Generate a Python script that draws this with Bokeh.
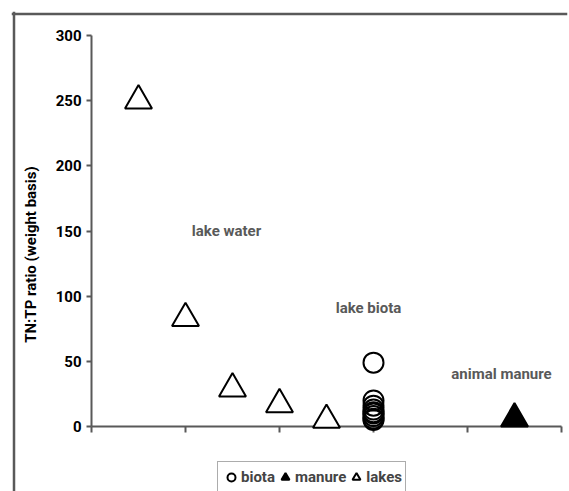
import math
from bokeh.plotting import figure
from bokeh.models import Label, Span, Legend, LegendItem, FixedTicker
from bokeh.embed import file_html
from bokeh.resources import INLINE

# ---- data ----
lakes_x = [1, 2, 3, 4, 5]
lakes_y = [250, 83, 29, 17, 5]
biota_x = [6, 6, 6, 6, 6, 6, 6, 6, 6]
biota_y = [49, 20, 16, 13, 11, 10, 8, 6, 5]
manure_x = [9]
manure_y = [6]
y_ticks = [0, 50, 100, 150, 200, 250, 300]
x_ticks = [0, 2, 4, 6, 8, 10]
series_names = ["biota", "manure", "lakes"]

FONT = "Roboto"
GREY = "#595959"

# ---- layout (pixels) ----
W, H = 569, 491
FL, FT, FR = 11, 11, 2          # frame (outer chart box) left/top, right border
AX_L, AX_R = 91, 561            # x=0 .. x=10
AX_T, AX_B = 35, 426            # y=300 .. y=0
xs = (AX_R - AX_L) / 10.0
ys = (AX_B - AX_T) / 300.0
x_range = ((FL - AX_L) / xs, 10 + (W - FR - AX_R) / xs)
y_range = (-(H - AX_B) / ys, 300 + (AX_T - FT) / ys)


def dx(px):
    return (px - AX_L) / xs


def dy(py):
    return (AX_B - py) / ys


p = figure(width=W, height=H, x_range=x_range, y_range=y_range,
           output_backend="svg", toolbar_location=None,
           min_border_left=FL, min_border_right=FR,
           min_border_top=FT, min_border_bottom=0)
p.outline_line_color = None
p.xgrid.visible = False
p.ygrid.visible = False

# y axis
ya = p.yaxis[0]
ya.fixed_location = 0
ya.bounds = (0, 300)
ya.ticker = FixedTicker(ticks=y_ticks)
ya.minor_tick_line_color = None
ya.major_tick_in = 0
ya.major_tick_out = 5
ya.major_label_standoff = 5
ya.axis_line_color = GREY
ya.axis_line_width = 2
ya.major_tick_line_color = GREY
ya.major_tick_line_width = 2
ya.major_label_text_font = FONT
ya.major_label_text_font_style = "bold"
ya.major_label_text_font_size = "15px"
ya.major_label_text_color = "black"

# x axis (no labels)
xa = p.xaxis[0]
xa.fixed_location = 0
xa.bounds = (0, 10)
xa.ticker = FixedTicker(ticks=x_ticks)
xa.major_label_overrides = {t: "" for t in x_ticks}
xa.minor_tick_line_color = None
xa.major_tick_in = 0
xa.major_tick_out = 6
xa.axis_line_color = GREY
xa.axis_line_width = 2
xa.major_tick_line_color = GREY
xa.major_tick_line_width = 2

# marks
r_lakes = p.scatter(lakes_x, lakes_y, marker="triangle", size=27,
                    fill_color="white", line_color="black", line_width=2,
                    level="overlay")
r_biota = p.scatter(biota_x, biota_y, marker="circle", size=20,
                    fill_color=None, line_color="black", line_width=2,
                    level="overlay")
r_manure = p.scatter(manure_x, manure_y, marker="triangle", size=27,
                     fill_color="black", line_color="black", line_width=2,
                     level="overlay")

# group labels
for txt, x, y in [("lake water", dx(226), dy(230)),
                  ("lake biota", dx(368), dy(307)),
                  ("animal manure", dx(501), dy(373))]:
    p.add_layout(Label(x=x, y=y, text=txt, text_align="center",
                       text_baseline="middle", text_font=FONT,
                       text_font_style="bold", text_font_size="15px",
                       text_color=GREY))

# y axis title
p.add_layout(Label(x=dx(30), y=dy(254), text="TN:TP ratio (weight basis)",
                   angle=math.pi / 2, text_align="center",
                   text_baseline="middle", text_font=FONT,
                   text_font_style="bold", text_font_size="15px",
                   text_color="black"))

# outer chart frame: only left and top edges are on the page
p.add_layout(Span(location=dx(13.5), dimension="height",
                  line_color=GREY, line_width=2.5))
p.add_layout(Span(location=dy(13.5), dimension="width",
                  line_color=GREY, line_width=2.5))

legend = Legend(items=[LegendItem(label=series_names[0], renderers=[r_biota]),
                       LegendItem(label=series_names[1], renderers=[r_manure]),
                       LegendItem(label=series_names[2], renderers=[r_lakes])],
                orientation="horizontal", location=(206, -2),
                glyph_width=20, glyph_height=24, label_standoff=0,
                spacing=0, padding=3, margin=0,
                label_text_font=FONT, label_text_font_style="bold",
                label_text_font_size="15px", label_height=24,
                border_line_color=GREY, border_line_width=1.5,
                background_fill_color="white", background_fill_alpha=1)
p.add_layout(legend)

open("out.html", "w").write(file_html(p, INLINE))
